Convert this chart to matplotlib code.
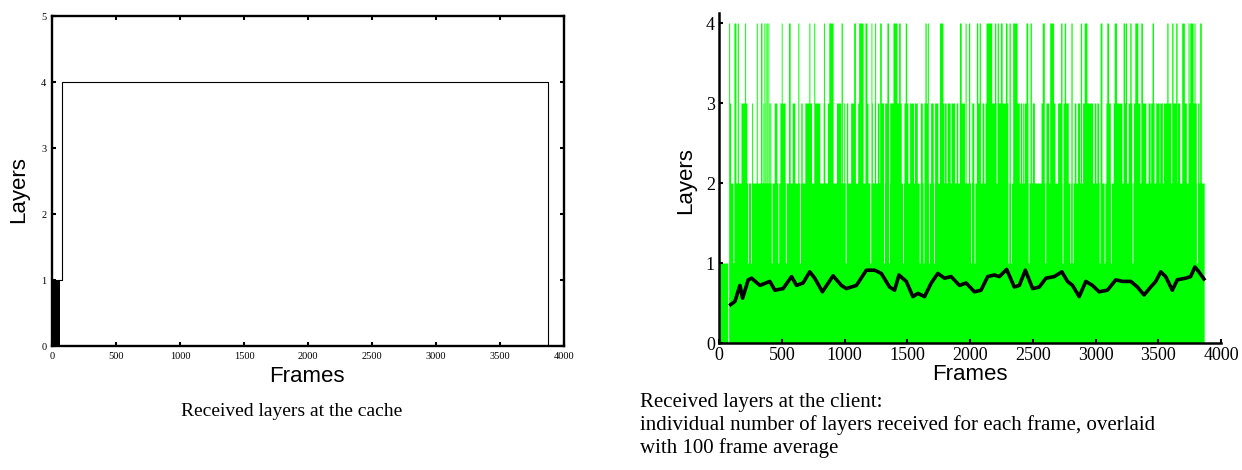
import numpy as np
from matplotlib import pyplot as plt

serif = ['Liberation Serif', 'DejaVu Serif']
sans = ['Liberation Sans', 'DejaVu Sans']

# ---- left: received layers at the cache ----
cache_frames = [0, 78, 3875]
cache_layers = [1, 4, 0]
cache_dense = [0, 62]          # frames that show up as solid black at 1 layer

# ---- right: received layers at the client, runs of frames (start, end) ----
n_frames = 3866
lost_run = (69, 77)            # frames with 0 layers
one_runs = [(111, 118), (228, 235), (252, 259), (416, 423), (469, 476), (529, 536),
            (641, 648), (1006, 1013), (1201, 1209), (1311, 1318), (1351, 1358),
            (1462, 1469), (1595, 1602), (1626, 1633), (1669, 1676), (1709, 1716),
            (2005, 2012), (2032, 2039), (2302, 2309), (2323, 2330), (2464, 2471),
            (2596, 2603), (2734, 2741), (2795, 2802), (2815, 2822), (3029, 3036),
            (3068, 3075), (3119, 3126), (3291, 3298), (3804, 3812)]
three_runs = [(77, 93), (175, 222), (260, 268), (297, 305), (331, 342), (350, 355),
              (360, 368), (376, 384), (392, 400), (405, 413), (440, 461), (485, 527),
              (556, 567), (583, 604), (631, 636), (652, 663), (684, 737), (758, 803),
              (830, 843), (864, 885), (936, 970), (975, 983), (994, 1002), (1015, 1026),
              (1049, 1081), (1105, 1116), (1126, 1148), (1163, 1187), (1211, 1222),
              (1238, 1248), (1262, 1275), (1285, 1311), (1320, 1346), (1360, 1452),
              (1474, 1505), (1519, 1550), (1558, 1580), (1604, 1620), (1633, 1667),
              (1686, 1707), (1718, 1744), (1768, 1792), (1797, 1810), (1818, 1842),
              (1850, 1877), (1890, 1903), (1916, 1956), (2014, 2030), (2051, 2083),
              (2096, 2110), (2120, 2208), (2218, 2287), (2295, 2301), (2311, 2321),
              (2340, 2393), (2401, 2412), (2420, 2428), (2433, 2446), (2454, 2462),
              (2497, 2513), (2566, 2592), (2605, 2627), (2635, 2677), (2698, 2725),
              (2742, 2783), (2831, 2844), (2857, 2873), (2897, 2977), (2990, 3003),
              (3011, 3024), (3037, 3051), (3083, 3118), (3141, 3210), (3223, 3247),
              (3260, 3289), (3303, 3353), (3369, 3401), (3419, 3435), (3440, 3467),
              (3480, 3507), (3512, 3533), (3541, 3600), (3607, 3639), (3653, 3671),
              (3687, 3724), (3737, 3803), (3814, 3825)]
four_runs = [(77, 85), (119, 135), (146, 154), (204, 212), (297, 305), (331, 342),
             (358, 366), (374, 384), (390, 397), (496, 503), (554, 567), (628, 636),
             (716, 724), (755, 763), (832, 840), (875, 909), (973, 983), (1073, 1087),
             (1113, 1148), (1163, 1179), (1211, 1218), (1240, 1248), (1280, 1293),
             (1338, 1351), (1386, 1418), (1431, 1444), (1484, 1495), (1641, 1651),
             (1660, 1668), (1757, 1784), (1916, 1930), (1961, 1969), (1988, 1998),
             (2051, 2062), (2073, 2083), (2128, 2173), (2195, 2205), (2216, 2226),
             (2242, 2256), (2282, 2295), (2311, 2321), (2340, 2375), (2446, 2460),
             (2478, 2489), (2576, 2592), (2635, 2666), (2722, 2733), (2751, 2762),
             (2804, 2814), (2879, 2889), (2910, 2932), (3037, 3051), (3090, 3104),
             (3149, 3167), (3220, 3231), (3236, 3247), (3273, 3284), (3313, 3337),
             (3361, 3374), (3451, 3462), (3568, 3578), (3607, 3618), (3639, 3650),
             (3687, 3708), (3737, 3745), (3751, 3777), (3785, 3793), (3830, 3843)]

# 100 frame average
avg_frames = [93, 127, 167, 188, 233, 260, 326, 405, 445, 511, 578, 618, 670, 723, 763,
              824, 909, 975, 1015, 1095, 1174, 1240, 1293, 1359, 1399, 1434, 1492, 1545,
              1585, 1638, 1691, 1744, 1797, 1850, 1916, 1969, 2035, 2088, 2141, 2194,
              2234, 2292, 2353, 2393, 2441, 2499, 2552, 2605, 2671, 2732, 2777, 2817,
              2870, 2923, 2976, 3029, 3095, 3162, 3215, 3281, 3334, 3387, 3440, 3480,
              3520, 3559, 3612, 3652, 3718, 3758, 3792, 3824, 3864]
avg_layers = [0.48, 0.52, 0.72, 0.56, 0.79, 0.81, 0.72, 0.77, 0.66, 0.68, 0.83, 0.72,
              0.75, 0.89, 0.81, 0.64, 0.84, 0.72, 0.68, 0.72, 0.91, 0.91, 0.87, 0.70,
              0.66, 0.85, 0.77, 0.58, 0.62, 0.58, 0.75, 0.87, 0.81, 0.83, 0.72, 0.75,
              0.64, 0.66, 0.83, 0.85, 0.83, 0.92, 0.70, 0.72, 0.91, 0.68, 0.70, 0.81,
              0.83, 0.89, 0.77, 0.72, 0.58, 0.77, 0.72, 0.64, 0.66, 0.79, 0.77, 0.77,
              0.70, 0.60, 0.70, 0.77, 0.89, 0.83, 0.66, 0.79, 0.81, 0.83, 0.95, 0.89,
              0.80]

x_ticks = list(range(0, 4001, 500))

# per frame values
layers = np.full(n_frames, 2)
layers[:lost_run[0]] = 1
layers[lost_run[0]:lost_run[1]] = 0
for a, b in one_runs:
    layers[a:b] = 1
for a, b in three_runs:
    layers[a:b] = np.maximum(layers[a:b], 3)
for a, b in four_runs:
    layers[a:b] = 4

W, H = 1242, 470
fig = plt.figure(figsize=(W / 100, H / 100), dpi=100)

# left chart
ax1 = fig.add_axes([52 / W, 124 / H, 512 / W, 330 / H])
ax1.fill_between(cache_dense, 0, 1, color='black', lw=0)
ax1.step(cache_frames, cache_layers, where='post', color='black', lw=0.8)
ax1.set_xlim(0, 4000)
ax1.set_ylim(0, 5)
ax1.set_xticks(x_ticks)
ax1.set_yticks(range(6))
ax1.tick_params(direction='in', top=True, right=True, length=3, width=1.5,
                labelsize=7.5, pad=4)
for sp in ax1.spines.values():
    sp.set_linewidth(1.7)
for lab in ax1.get_xticklabels() + ax1.get_yticklabels():
    lab.set_family(serif)
fig.text(307 / W, 1 - 376 / H, 'Frames', family=sans, fontsize=16,
         ha='center', va='center')
fig.text(19 / W, 1 - 190 / H, 'Layers', family=sans, fontsize=16,
         ha='center', va='center', rotation=90)
fig.text(292 / W, 1 - 411 / H, 'Received layers at the cache', family=serif,
         fontsize=14, ha='center', va='center')

# right chart
ax2 = fig.add_axes([719 / W, 127 / H, 502 / W, 330 / H])
xs = np.arange(n_frames + 1)
ax2.fill_between(xs, 0, np.append(layers, layers[-1]), step='post',
                 color='#00ff00', lw=0, antialiased=True)
ax2.plot(avg_frames, avg_layers, color='black', lw=2.6, solid_joinstyle='round')
ax2.set_xlim(0, 4000)
ax2.set_ylim(0, 4.125)
ax2.set_xticks(x_ticks)
ax2.set_yticks(range(5))
ax2.spines['top'].set_visible(False)
ax2.spines['right'].set_visible(False)
for sp in ['left', 'bottom']:
    ax2.spines[sp].set_linewidth(1.8)
ax2.tick_params(direction='in', length=3, width=1.5, labelsize=13, pad=3)
for lab in ax2.get_xticklabels() + ax2.get_yticklabels():
    lab.set_family(serif)
fig.text(970 / W, 1 - 374 / H, 'Frames', family=sans, fontsize=16,
         ha='center', va='center')
fig.text(686 / W, 1 - 181 / H, 'Layers', family=sans, fontsize=16,
         ha='center', va='center', rotation=90)
fig.text(640 / W, 1 - 402 / H, 'Received layers at the client:', family=serif,
         fontsize=15, ha='left', va='center')
fig.text(640 / W, 1 - 425 / H,
         'individual number of layers received for each frame, overlaid',
         family=serif, fontsize=15, ha='left', va='center')
fig.text(640 / W, 1 - 448 / H, 'with 100 frame average', family=serif,
         fontsize=15, ha='left', va='center')

fig.savefig('out.png', dpi=100)
